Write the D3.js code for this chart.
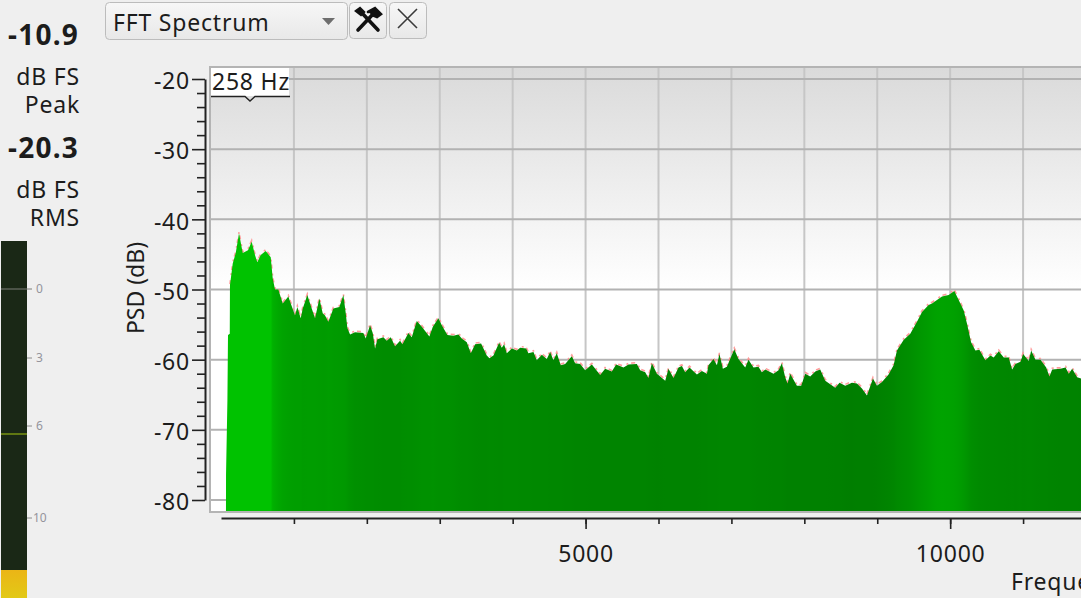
<!DOCTYPE html>
<html><head><meta charset="utf-8">
<script src="https://cdn.jsdelivr.net/npm/d3@7"></script>
<style>
html,body{margin:0;padding:0;background:#efefef;overflow:hidden}
svg{display:block}
text{font-family:"Noto Sans",sans-serif;fill:#1c1c1c}
.w{letter-spacing:.8px}
</style></head><body>
<svg id="c" width="1081" height="598"></svg>
<script>
const freqs=[68,69,88,96,120,123,161,202,247,298,370,421,466,498,545,613,682,709,741,786,847,923,1015,1047,1093,1121,1184,1244,1290,1349,1395,1427,1472,1541,1623,1678,1711,1733,1770,1838,1952,1985,2044,2081,2113,2144,2227,2273,2328,2387,2456,2488,2570,2616,2685,2754,2858,2905,2981,3028,3105,3187,3256,3302,3371,3426,3485,3567,3645,3681,3736,3814,3851,3883,3920,3988,4057,4102,4185,4216,4285,4331,4400,4468,4514,4559,4605,4660,4720,4811,4857,4926,4994,5086,5200,5268,5360,5419,5520,5589,5703,5749,5818,5862,5909,5978,6092,6137,6206,6274,6321,6366,6425,6527,6595,6664,6685,6754,6801,6836,6883,6938,7039,7097,7189,7234,7303,7371,7418,7464,7577,7646,7692,7738,7770,7806,7898,7957,8013,8081,8150,8218,8287,8424,8483,8561,8653,8722,8790,8859,8941,8996,9065,9155,9224,9270,9361,9453,9545,9614,9704,9751,9819,9888,9979,10057,10117,10186,10232,10287,10346,10401,10483,10552,10597,10666,10735,10803,10850,10895,10964,11001,11078,11111,11170,11239,11317,11362,11399,11513,11582,11627,11673,11742,11801];
const psd=[-82,-76.4,-65.8,-56.5,-56.3,-49.4,-46.3,-44.8,-42,-44.8,-44.4,-43.2,-45.1,-46.1,-45.1,-44.5,-45.4,-48.4,-50,-50,-52,-51,-53.7,-52.5,-54.1,-52.7,-50.8,-52.7,-54.1,-51.3,-53.4,-53.7,-54.6,-52.7,-52.5,-50.8,-53.4,-55.5,-56.4,-56.1,-56.2,-57,-55.1,-56.2,-58.4,-57.1,-56.8,-57.3,-56.8,-58.1,-57.3,-57.8,-56.2,-56.8,-54.5,-55.3,-56.7,-55.3,-54.1,-55.1,-56.5,-56.6,-56.4,-57,-57.5,-59.1,-57.8,-57.7,-59.4,-59.8,-59.4,-57.6,-58.3,-57.8,-59.1,-58.4,-58.7,-58.3,-58.4,-59.1,-58.9,-60.1,-59.3,-59.9,-58.9,-60.1,-59.1,-60.8,-60.6,-59.5,-60.5,-60.6,-61.5,-60.7,-62.2,-61.3,-61.7,-60.7,-61.1,-60.7,-60.6,-61.5,-61.8,-62.6,-60.5,-62,-63,-61.3,-62.6,-61.1,-60.9,-61.8,-61.1,-62.1,-61.6,-62,-60.8,-59.9,-60.8,-59.2,-61.3,-61,-58.5,-59.9,-61.1,-60,-61.1,-61,-61.8,-61.4,-62,-61.5,-60.5,-62.5,-63.4,-62,-63.7,-63.7,-62,-62.4,-61.7,-61.4,-63,-64,-63.3,-63.7,-63.3,-63.4,-64.1,-65.1,-62.7,-63.7,-63.2,-62.1,-60.8,-58.7,-57.2,-56.3,-54.6,-53.2,-52.2,-52,-51.5,-51,-50.8,-50.2,-51.5,-53,-54.9,-57.5,-58.7,-58.6,-60.1,-59.4,-59.7,-58.8,-59.7,-59.7,-61.4,-60.6,-60.3,-59.2,-60.2,-58.7,-60,-60,-61.1,-62.4,-61.4,-61.3,-61.1,-62,-61.3,-62.5,-62.7];
const yMajor=[-20,-30,-40,-50,-60,-70,-80];
const yMinor=[-22,-24,-26,-28,-32,-34,-36,-38,-42,-44,-46,-48,-52,-54,-56,-58,-62,-64,-66,-68,-72,-74,-76,-78];
const xGrid=[1000,2000,3000,4000,5000,6000,7000,8000,9000,10000,11000,12000];
const xMajor=[5000,10000];
const meterTicks=[0,3,6,10];
const readouts=[["-10.9","dB FS","Peak"],["-20.3","dB FS","RMS"]];

const svg=d3.select("#c");
const x=d3.scaleLinear().domain([0,12000]).range([221,1096]);
const y=d3.scaleLinear().domain([-20,-80]).range([79,500]);
const meterY=d3.scaleLinear().domain([0,3,6,10]).range([289,358,426,518]);
const level=d3.scaleLinear().domain([-65,-56,-50,-44]).range(["#007c00","#008f00","#00a800","#00c200"]);
const defs=svg.append("defs");

// plot background
const bg=defs.append("linearGradient").attr("id","bg").attr("x1",0).attr("x2",0).attr("y1",0).attr("y2",1);
[[0,"#dadada"],[0.5,"#ffffff"],[1,"#ffffff"]].forEach(d=>bg.append("stop").attr("offset",d[0]).attr("stop-color",d[1]));
defs.append("clipPath").attr("id","plot").append("rect").attr("x",211).attr("y",68).attr("width",880).attr("height",443);
svg.append("rect").attr("x",210).attr("y",67).attr("width",890).attr("height",445).attr("fill","url(#bg)").attr("stroke","#b4b4b4").attr("stroke-width",2);

// grid
const grid=svg.append("g").attr("clip-path","url(#plot)");
grid.selectAll("line.v").data(xGrid).join("line").attr("class","v").attr("x1",d=>x(d)).attr("x2",d=>x(d)).attr("y1",67).attr("y2",512).attr("stroke","#c6c6c6").attr("stroke-width",2);
grid.selectAll("line.h").data(yMajor).join("line").attr("class","h").attr("x1",210).attr("x2",1081).attr("y1",d=>y(d)).attr("y2",d=>y(d)).attr("stroke","#b2b2b2").attr("stroke-width",2);

// spectrum
const data=freqs.map((f,i)=>({f,v:psd[i]}));
const smooth=data.map((d,i)=>d3.mean(data.slice(Math.max(0,i-3),i+4),e=>e.v));
const fg=defs.append("linearGradient").attr("id","fill").attr("gradientUnits","userSpaceOnUse").attr("x1",x(freqs[0])).attr("x2",x(freqs[freqs.length-1])).attr("y1",0).attr("y2",0);
const span=freqs[freqs.length-1]-freqs[0];
data.forEach((d,i)=>fg.append("stop").attr("offset",(d.f-freqs[0])/span).attr("stop-color",level(d.f<700?-44:smooth[i])));
const area=d3.area().x(d=>x(d.f)).y0(511).y1(d=>y(d.v)).curve(d3.curveLinear);
grid.append("path").datum(data.slice(5)).attr("d",d3.line().x(d=>x(d.f)).y(d=>y(d.v)-1.2)).attr("fill","none").attr("stroke","#ff8a8a").attr("stroke-width",1.6).attr("stroke-dasharray","4 5 2 3").attr("opacity",.85);
grid.append("path").datum(data).attr("d",area).attr("fill","url(#fill)");

// y axis
const ya=svg.append("g").attr("transform","translate(205,0)").call(d3.axisLeft(y).tickValues(yMajor).tickSize(13).tickSizeOuter(0).tickPadding(2).tickFormat(d=>d));
ya.select(".domain").attr("stroke","#222").attr("stroke-width",2);
ya.selectAll(".tick line").attr("stroke","#222").attr("stroke-width",1.6);
ya.selectAll("text").attr("class","w").style("font-size","23px").attr("dy","0.42em");
const ym=svg.append("g").attr("transform","translate(205,0)").call(d3.axisLeft(y).tickValues(yMinor).tickSize(8).tickSizeOuter(0).tickFormat(""));
ym.select(".domain").remove();
ym.selectAll(".tick line").attr("stroke","#222").attr("stroke-width",1.6);

// x axis
const xa=svg.append("g").attr("transform","translate(0,518)").call(d3.axisBottom(x).tickValues(xGrid).tickSize(6).tickSizeOuter(0).tickFormat(""));
xa.select(".domain").attr("stroke","#222").attr("stroke-width",2);
xa.selectAll(".tick line").attr("stroke","#222").attr("stroke-width",1.6);
const xb=svg.append("g").attr("transform","translate(0,518)").call(d3.axisBottom(x).tickValues(xMajor).tickSize(11).tickSizeOuter(0).tickPadding(17).tickFormat(d=>d));
xb.select(".domain").remove();
xb.selectAll(".tick line").attr("stroke","#222").attr("stroke-width",1.6);
xb.selectAll("text").attr("class","w").style("font-size","23px");

svg.append("text").attr("class","w").attr("x",1011).attr("y",590).style("font-size","23px").text("Frequency (Hz)");
svg.append("text").attr("transform","translate(144,288) rotate(-90)").attr("text-anchor","middle").style("font-size","23px").text("PSD (dB)");

// marker legend
svg.append("rect").attr("x",211).attr("y",68).attr("width",78).attr("height",28).attr("fill","#fff");
svg.append("path").attr("d","M211 96.5H245L250 101L255 96.5H290").attr("fill","none").attr("stroke","#222").attr("stroke-width",1.4);
svg.append("text").attr("class","w").attr("x",251).attr("y",90).attr("text-anchor","middle").style("font-size","23px").text("258 Hz");

// readouts
const rd=svg.append("g").attr("text-anchor","end");
readouts.forEach((r,i)=>{
  const o=i*113;
  rd.append("text").attr("x",79).attr("y",45+o).style("font-size","28px").style("font-weight","700").style("letter-spacing","1.2px").text(r[0]);
  rd.append("text").attr("class","w").attr("x",80).attr("y",85+o).style("font-size","23px").text(r[1]);
  rd.append("text").attr("class","w").attr("x",80).attr("y",113+o).style("font-size","23px").text(r[2]);
});

// meter
const yg=defs.append("linearGradient").attr("id","yel").attr("x1",0).attr("x2",0).attr("y1",0).attr("y2",1);
[[0,"#ebb516"],[1,"#e2c916"]].forEach(d=>yg.append("stop").attr("offset",d[0]).attr("stop-color",d[1]));
svg.append("rect").attr("x",1).attr("y",241).attr("width",26).attr("height",329).attr("fill","#1a2816");
svg.append("rect").attr("x",1).attr("y",570).attr("width",26).attr("height",28).attr("fill","url(#yel)");
svg.append("line").attr("x1",1).attr("x2",27).attr("y1",434).attr("y2",434).attr("stroke","#8fae12").attr("stroke-width",1.2);
const mt=svg.append("g");
mt.selectAll("line").data(meterTicks).join("line").attr("x1",d=>d===0?1:27).attr("x2",32).attr("y1",d=>meterY(d)).attr("y2",d=>meterY(d)).attr("stroke",d=>d===0?"#7d7f78":"#8c8c8c").attr("stroke-width",1);
mt.selectAll("text").data(meterTicks).join("text").attr("x",d=>d===10?33:36).attr("y",d=>meterY(d)+4).style("font-size","12px").style("fill","#94949c").text(d=>d);

// toolbar
const cg=defs.append("linearGradient").attr("id","btn").attr("x1",0).attr("x2",0).attr("y1",0).attr("y2",1);
[[0,"#f7f7f7"],[1,"#e8e8e8"]].forEach(d=>cg.append("stop").attr("offset",d[0]).attr("stop-color",d[1]));
svg.append("rect").attr("x",105.5).attr("y",2.5).attr("width",242).attr("height",37).attr("rx",4).attr("fill","url(#btn)").attr("stroke","#bcbcbc");
svg.append("text").attr("class","w").attr("x",113).attr("y",31).style("font-size","23px").text("FFT Spectrum");
svg.append("path").attr("d","M322 18H335L328.5 25Z").attr("fill","#6e6e6e");
svg.append("rect").attr("x",349.5).attr("y",2.5).attr("width",37).attr("height",36).attr("rx",4).attr("fill","url(#btn)").attr("stroke","#bcbcbc");
svg.append("rect").attr("x",389.5).attr("y",2.5).attr("width",37).attr("height",36).attr("rx",4).attr("fill","url(#btn)").attr("stroke","#bcbcbc");
svg.append("path").attr("d","M398 9L417 28M417 9L398 28").attr("stroke","#3a3a3a").attr("stroke-width",1.6).attr("fill","none");
const tools=svg.append("g").attr("stroke","#111").attr("fill","none").attr("stroke-linecap","round");
tools.append("path").attr("d","M361 12L378 30").attr("stroke-width",3.6);
tools.append("path").attr("d","M375 12L358 30").attr("stroke-width",3.6);
tools.append("path").attr("d","M368 12L375 8L381 14L377 17L372 15").attr("stroke-width",2.6).attr("fill","#111");
tools.append("path").attr("d","M356 11L360 8L364 12L361 15Z").attr("stroke-width",2.4).attr("fill","#111");
</script>
</body></html>
